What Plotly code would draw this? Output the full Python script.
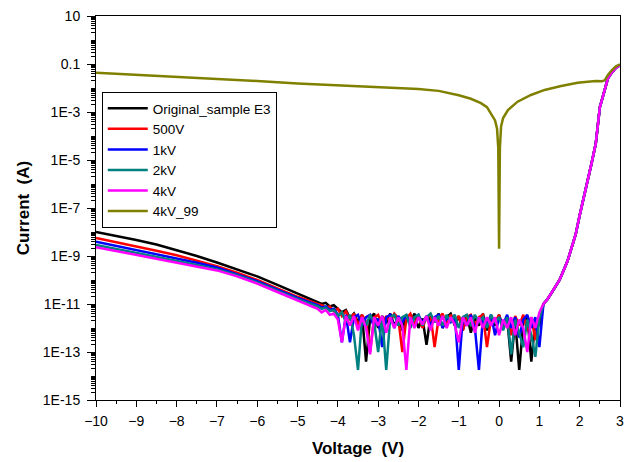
import plotly.graph_objects as go

# ---------------- data (log10 of current in A) ----------------
names = ["Original_sample E3", "500V", "1kV", "2kV", "4kV", "4kV_99"]
colors = ["#000000", "#FF0000", "#0000FF", "#008080", "#FF00FF", "#808000"]

v_rev = [-10.0, -9.5, -9.0, -8.5, -8.0, -7.5, -7.0, -6.5, -6.0, -5.5, -5.0]
v_floor = [-4.5, -4.4, -4.3, -4.2, -4.1, -4.0, -3.9, -3.8, -3.7, -3.6, -3.5, -3.4,
           -3.3, -3.2, -3.1, -3.0, -2.9, -2.8, -2.7, -2.6, -2.5, -2.4, -2.3, -2.2,
           -2.1, -2.0, -1.9, -1.8, -1.7, -1.6, -1.5, -1.4, -1.3, -1.2, -1.1, -1.0,
           -0.9, -0.8, -0.7, -0.6, -0.5, -0.4, -0.3, -0.2, -0.1, 0.0, 0.1, 0.2,
           0.3, 0.4, 0.5, 0.6, 0.7, 0.8, 0.9, 1.0]
v_fwd = [1.1, 1.2, 1.3, 1.4, 1.5, 1.6, 1.7, 1.8, 1.9, 2.0, 2.1, 2.2, 2.3, 2.4,
         2.5, 2.6, 2.7, 2.8, 2.9, 3.0]

black_rev = [-8.0, -8.15, -8.33, -8.52, -8.75, -9.0, -9.27, -9.55, -9.85, -10.2, -10.55]
red_rev = [-8.25, -8.42, -8.6, -8.78, -8.97, -9.18, -9.42, -9.7, -10.0, -10.35, -10.7]
blue_rev = [-8.4, -8.57, -8.75, -8.92, -9.1, -9.28, -9.48, -9.75, -10.05, -10.4, -10.75]
teal_rev = [-8.54, -8.7, -8.86, -9.03, -9.2, -9.37, -9.56, -9.8, -10.1, -10.45, -10.8]
magenta_rev = [-8.63, -8.79, -8.95, -9.11, -9.28, -9.44, -9.6, -9.85, -10.15, -10.5, -10.85]

black_floor = [-10.9, -11.0, -10.95, -11.1, -11.05, -11.2, -11.35, -11.25, -11.6, -11.4,
               -11.75, -11.45, -13.4, -11.6, -11.4, -12.0, -11.5, -11.8, -11.4, -11.9,
               -11.55, -12.1, -11.5, -11.8, -11.4, -12.0, -11.6, -12.7, -11.5, -11.75,
               -11.4, -12.0, -11.55, -11.4, -11.9, -11.5, -12.1, -11.45, -12.2, -11.55,
               -11.9, -11.4, -12.1, -11.6, -11.9, -11.45, -12.0, -11.6, -13.4, -11.7,
               -13.75, -11.8, -11.5, -13.4, -11.7, -11.9]
red_floor = [-11.0, -11.05, -11.15, -11.1, -11.3, -11.2, -11.5, -11.3, -11.65, -11.4,
             -11.9, -11.45, -11.75, -13.0, -11.55, -11.45, -11.9, -11.5, -11.75, -11.4,
             -11.6, -13.0, -11.6, -11.4, -11.85, -11.45, -12.0, -11.55, -11.45, -12.8,
             -11.6, -11.4, -11.9, -11.45, -11.75, -11.5, -12.1, -11.55, -11.45, -11.9,
             -11.55, -11.45, -12.8, -11.6, -11.75, -11.45, -12.0, -11.55, -12.3, -11.5,
             -11.9, -11.45, -12.1, -11.55, -12.5, -11.5]
blue_floor = [-11.05, -11.15, -11.1, -11.25, -11.2, -11.45, -12.6, -11.45, -12.6, -11.55,
              -11.45, -11.9, -11.55, -11.45, -12.0, -11.6, -12.8, -11.55, -11.45, -12.0,
              -11.5, -11.75, -11.45, -11.9, -11.55, -11.45, -11.8, -11.5, -11.9, -11.55,
              -11.45, -12.0, -11.55, -11.75, -11.45, -13.75, -11.55, -11.9, -11.45, -12.0,
              -13.75, -11.55, -11.85, -11.45, -12.3, -11.55, -11.85, -11.45, -12.0, -11.55,
              -12.4, -11.65, -11.45, -12.0, -11.55, -12.8]
teal_floor = [-11.1, -11.2, -11.15, -11.3, -11.25, -11.5, -11.35, -11.75, -11.45, -12.3,
              -13.75, -11.55, -11.9, -11.45, -11.75, -13.0, -11.55, -13.75, -11.55, -11.45,
              -11.9, -11.55, -11.45, -12.0, -11.55, -11.45, -11.9, -11.55, -11.4, -11.75,
              -11.5, -11.9, -11.45, -11.75, -11.45, -12.0, -11.55, -11.45, -11.9, -11.45,
              -11.75, -11.55, -12.0, -11.45, -11.75, -11.55, -12.1, -11.55, -13.1, -11.65,
              -12.2, -12.8, -11.65, -12.3, -13.2, -11.6]
magenta_floor = [-11.2, -11.35, -11.25, -11.45, -11.4, -11.65, -12.6, -11.5, -11.9, -11.5,
                 -12.1, -11.55, -12.0, -13.1, -11.55, -11.9, -11.5, -12.2, -11.55, -12.0,
                 -11.55, -11.9, -13.75, -11.55, -12.0, -11.55, -11.85, -11.5, -12.1, -11.55,
                 -11.9, -11.5, -12.0, -11.55, -11.85, -12.6, -11.55, -11.9, -11.55, -12.2,
                 -11.55, -12.0, -11.55, -11.9, -11.55, -12.3, -11.65, -12.0, -11.55, -12.3,
                 -11.65, -12.0, -13.0, -11.55, -12.0, -11.35]

fwd = [-11.0, -10.8, -10.55, -10.3, -10.0, -9.6, -9.2, -8.65, -8.1, -7.3, -6.6,
       -5.85, -5.1, -4.3, -2.8, -2.2, -1.6, -1.35, -1.15, -1.05]

v_olive = [-10.0, -9.0, -8.0, -7.0, -6.0, -5.0, -4.0, -3.0, -2.0, -1.5, -1.0, -0.7,
           -0.45, -0.3, -0.2, -0.1, -0.05, -0.02, 0.0, 0.02, 0.05, 0.1, 0.22, 0.46,
           0.79, 1.13, 1.54, 1.95, 2.2, 2.4, 2.55, 2.62, 2.7, 2.8, 2.9, 3.0]
olive_log = [-1.36, -1.44, -1.53, -1.62, -1.71, -1.81, -1.89, -1.96, -2.04, -2.12, -2.3,
             -2.45, -2.63, -2.8, -3.05, -3.35, -3.7, -4.5, -8.7, -4.5, -3.6, -3.25,
             -2.92, -2.57, -2.29, -2.08, -1.92, -1.78, -1.74, -1.71, -1.72, -1.68,
             -1.46, -1.25, -1.1, -1.02]

series = [
    (black_rev, black_floor),
    (red_rev, red_floor),
    (blue_rev, blue_floor),
    (teal_rev, teal_floor),
    (magenta_rev, magenta_floor),
]

FONT = "Liberation Sans, Arial, sans-serif"

fig = go.Figure()
v_all = v_rev + v_floor + v_fwd
for i, (rev, flo) in enumerate(series):
    logs = rev + flo + fwd
    fig.add_trace(go.Scatter(
        x=v_all, y=[10 ** e for e in logs], mode="lines", name=names[i],
        line=dict(color=colors[i], width=2.5)))
fig.add_trace(go.Scatter(
    x=v_olive, y=[10 ** e for e in olive_log], mode="lines", name=names[5],
    line=dict(color=colors[5], width=2.5)))

# tick values
major_y = [10.0 ** e for e in range(1, -16, -2)]
major_txt = ["10", "0.1", "1E-3", "1E-5", "1E-7", "1E-9", "1E-11", "1E-13", "1E-15"]
minor_y = []
for e in range(-15, 1):
    for m in range(1, 10):
        if m == 1 and (e % 2) != 0:
            continue
        minor_y.append(m * 10.0 ** e)
minor_y.append(1.0)

x_major = list(range(-10, 4))
x_minor = [k + 0.5 for k in range(-10, 3)]

tickfont = dict(family=FONT, size=14, color="black")

fig.update_layout(
    width=627, height=462,
    margin=dict(l=96, r=7, t=16, b=62, autoexpand=False),
    paper_bgcolor="white", plot_bgcolor="white",
    font=dict(family=FONT, size=14, color="black"),
    showlegend=True,
    legend=dict(x=0.011, y=0.802, xanchor="left", yanchor="top",
                bordercolor="black", borderwidth=1, bgcolor="white",
                font=dict(family=FONT, size=13.5, color="black"),
                tracegroupgap=0, itemwidth=40),
    xaxis=dict(range=[-10, 3], tickmode="array", tickvals=x_major, automargin=False,
               ticks="outside", ticklen=6, tickwidth=1, tickcolor="black",
               showline=True, linecolor="black", linewidth=1, mirror=True,
               showgrid=False, zeroline=False, tickfont=tickfont,
               ticklabeloverflow="allow", ticklabelstandoff=2,
               minor=dict(tickmode="array", tickvals=x_minor, ticks="outside",
                          ticklen=3, tickcolor="black", showgrid=False),
               title=dict(text="<b>Voltage  (V)</b>", font=dict(family=FONT, size=17),
                          standoff=14)),
    yaxis=dict(type="log", range=[-15, 1], tickmode="array", tickvals=major_y,
               automargin=False,
               ticktext=major_txt, ticks="outside", ticklen=8, tickwidth=1,
               tickcolor="black", showline=True, linecolor="black", linewidth=1,
               mirror=True, showgrid=False, zeroline=False, tickfont=tickfont,
               ticklabeloverflow="allow", ticklabelstandoff=4,
               minor=dict(tickmode="array", tickvals=minor_y, ticks="outside",
                          ticklen=4, tickcolor="black", showgrid=False),
               title=dict(text="<b>Current  (A)</b>", font=dict(family=FONT, size=17),
                          standoff=8)),
    xaxis2=dict(overlaying="x", side="top", anchor="y", range=[-10, 3],
                automargin=False,
                tickmode="array", tickvals=x_major, ticks="inside", ticklen=6,
                tickcolor="black", showticklabels=False, showgrid=False,
                zeroline=False, showline=False,
                minor=dict(tickmode="array", tickvals=x_minor, ticks="inside",
                           ticklen=3, tickcolor="black", showgrid=False)),
    yaxis2=dict(overlaying="y", side="right", anchor="x", type="log", range=[-15, 1],
                automargin=False,
                tickmode="array", tickvals=major_y, ticks="inside", ticklen=6,
                tickcolor="black", showticklabels=False, showgrid=False,
                zeroline=False, showline=False,
                minor=dict(tickmode="array", tickvals=minor_y, ticks="inside",
                           ticklen=3, tickcolor="black", showgrid=False)),
)

# remove the browser's default 8px body margin so the figure fills the window
fig.write_html("out.html",
               config={"displayModeBar": False},
               post_script="document.body.style.margin='0px';"
                           "document.body.style.overflow='hidden';")
